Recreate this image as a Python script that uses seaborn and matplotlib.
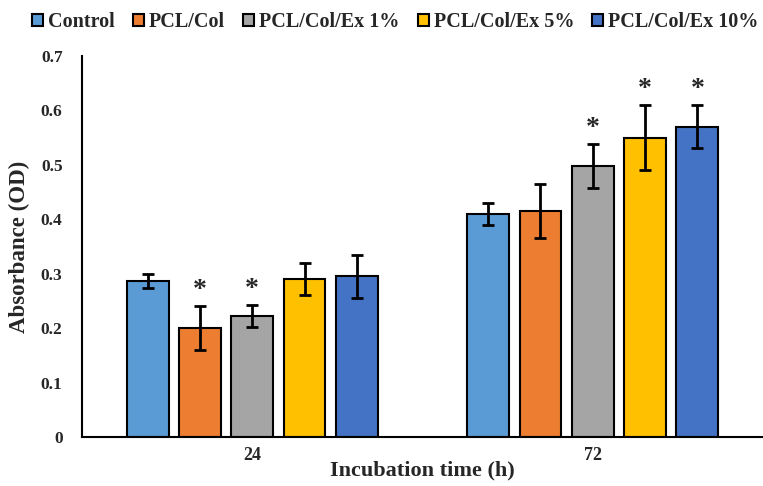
import pandas as pd
import numpy as np
import matplotlib
matplotlib.use("Agg")
import matplotlib.pyplot as plt
import seaborn as sns

# data
times = ['24', '72']
groups = ['Control', 'PCL/Col', 'PCL/Col/Ex 1%', 'PCL/Col/Ex 5%', 'PCL/Col/Ex 10%']
od_24 = [0.287, 0.200, 0.222, 0.290, 0.295]
od_72 = [0.410, 0.415, 0.498, 0.550, 0.570]
err_24 = [0.013, 0.040, 0.020, 0.030, 0.040]
err_72 = [0.020, 0.050, 0.040, 0.060, 0.040]
star_24 = [False, True, True, False, False]
star_72 = [False, False, True, True, True]

colors = ['#5B9BD5', '#ED7D31', '#A5A5A5', '#FFC000', '#4472C4']

sns.set_style('white')
plt.rcParams['font.family'] = ['Liberation Serif', 'DejaVu Serif']
plt.rcParams['font.weight'] = 'bold'

rows = []
for i, g in enumerate(groups):
    rows.append({'time': times[0], 'group': g, 'od': od_24[i], 'err': err_24[i], 'star': star_24[i]})
    rows.append({'time': times[1], 'group': g, 'od': od_72[i], 'err': err_72[i], 'star': star_72[i]})
df = pd.DataFrame(rows)

fig = plt.figure(figsize=(7.63, 4.86), dpi=100)
ax = fig.add_axes([0.1075, 0.1008, 0.8925, 0.7842])

sns.barplot(data=df, x='time', y='od', hue='group', order=times, hue_order=groups,
            palette=colors, width=0.768, gap=0.2, errorbar=None,
            edgecolor='black', linewidth=1.5, saturation=1, ax=ax)

# error bars and significance stars
for container, g in zip(ax.containers, groups):
    sub = df[df['group'] == g].set_index('time').loc[times]
    for bar, (_, r) in zip(container.patches, sub.iterrows()):
        xc = bar.get_x() + bar.get_width() / 2
        ax.errorbar(xc, r['od'], yerr=r['err'], color='black', elinewidth=2,
                    capsize=4, capthick=2, zorder=5)
        if r['star']:
            ax.text(xc, r['od'] + r['err'] + 0.006, '*', ha='center', va='bottom',
                    fontsize=20, fontweight='bold')

ax.set_xlim(-0.5, 1.5)
ax.set_ylim(0, 0.7)
ax.set_yticks(np.arange(0, 0.71, 0.1))
ax.set_yticklabels(['0'] + [f'{v:.1f}' for v in np.arange(0.1, 0.71, 0.1)])
ax.tick_params(axis='y', length=0, pad=14, labelsize=12.5)
ax.tick_params(axis='x', length=0, pad=7, labelsize=13)

ax.set_xlabel('Incubation time (h)', fontsize=16, fontweight='bold', labelpad=-2)
ax.set_ylabel('Absorbance (OD)', fontsize=16.5, fontweight='bold', labelpad=8)

sns.despine(ax=ax)
for s in ['left', 'bottom']:
    ax.spines[s].set_color('black')
    ax.spines[s].set_linewidth(1.5)

handles, labels = ax.get_legend_handles_labels()
ax.get_legend().remove()
fig.legend(handles, labels, loc='upper center', bbox_to_anchor=(0.518, 1.012), ncol=5,
           frameon=False, fontsize=14.5, handlelength=0.55, handleheight=0.55,
           handletextpad=0.25, columnspacing=0.9)

fig.savefig('out.png', dpi=100)
plt.close(fig)
